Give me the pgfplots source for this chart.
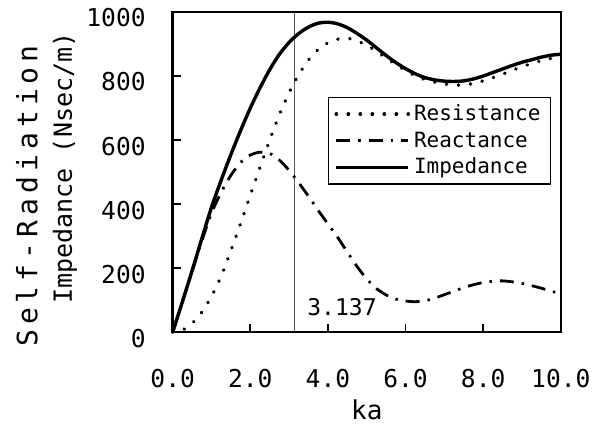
\documentclass[border=0pt]{standalone}
\usepackage{fontspec}
\setmainfont{DejaVu Sans Mono}
\newfontfamily\spacedmono[LetterSpace=18]{DejaVu Sans Mono}
\usepackage{pgfplots}
\usepackage{pgfplotstable}
\pgfplotsset{compat=1.18}

% ka, resistance, reactance, impedance
\pgfplotstableread{
ka   res  rea  imp
0.00 0    0    0
0.25 6    95   95
0.50 28   190  192
0.75 62   285  292
1.00 112  372  390
1.25 175  437  475
1.50 255  490  555
1.75 340  530  630
2.00 428  553  700
2.25 515  562  763
2.50 600  558  820
2.75 680  537  868
3.00 748  505  905
3.25 805  466  933
3.50 850  424  953
3.75 883  380  965
4.00 904  338  968
4.25 915  296  963
4.50 918  250  951
4.75 910  205  933
5.00 896  166  912
5.25 877  136  888
5.50 856  116  864
5.75 836  103  842
6.00 817  97   823
6.25 801  95   807
6.50 789  98   795
6.75 781  106  788
7.00 775  117  784
7.25 772  128  783
7.50 772  139  785
7.75 777  148  791
8.00 785  155  800
8.25 795  159  811
8.50 806  160  822
8.75 818  157  833
9.00 829  152  843
9.25 839  145  851
9.50 848  137  859
9.75 855  128  865
10.00 860 120  868
}\datatable

\begin{document}
\begin{tikzpicture}
\begin{axis}[
    scale only axis,
    width=194pt, height=160pt,
    xmin=0, xmax=10, ymin=0, ymax=1000,
    xtick={0,2,...,10}, ytick={0,200,...,1000},
    tick align=inside, xtick pos=bottom, ytick pos=left,
    major tick length=4pt,
    axis line style={line width=1.3pt},
    every tick/.style={black, line width=0.9pt},
    /pgf/number format/assume math mode=true,
    /pgf/number format/1000 sep={},
    tick label style={font=\fontsize{12.3}{14}\selectfont},
    xticklabel style={yshift=-15pt, /pgf/number format/.cd, fixed, fixed zerofill, precision=1},
    yticklabel style={xshift=-10pt, yshift=-3pt},
    xlabel={ka},
    xlabel style={at={(rel axis cs:0.5,-0.244)}, anchor=center, font=\fontsize{13}{15}\selectfont},
    ylabel={Impedance (Nsec/m)},
    ylabel style={at={(rel axis cs:-0.2776,0.5125)}, anchor=center, font=\fontsize{12.5}{15}\selectfont},
    legend style={at={(rel axis cs:0.975,0.734)}, anchor=north east, draw=black, line width=0.6pt,
        fill=white, font=\fontsize{10.5}{12}\selectfont, inner xsep=3pt, inner ysep=1.5pt,
        row sep=0pt, cells={anchor=west}},
    legend image code/.code={\draw[#1] (0pt,0pt) -- (36pt,0pt);},
    clip=false,
]
\addplot[gray!70!black, line width=0.5pt, forget plot] coordinates {(3.137,0) (3.137,1000)};
\addplot[black, line width=1.8pt, line cap=round, dash pattern=on 0.1pt off 5.9pt, smooth]
    table[x=ka, y=res] {\datatable};
\addlegendentry{Resistance}
\addplot[black, line width=1.4pt, dash pattern=on 7pt off 4pt on 1.2pt off 4pt, smooth]
    table[x=ka, y=rea] {\datatable};
\addlegendentry{Reactance}
\addplot[black, line width=1.7pt, smooth]
    table[x=ka, y=imp] {\datatable};
\addlegendentry{Impedance}
\node[anchor=west, inner sep=0pt, font=\fontsize{11.5}{13}\selectfont] at (axis cs:3.46,78) {3.137};
\node[rotate=90, anchor=center, font=\fontsize{14}{16}\spacedmono] at (rel axis cs:-0.3755,0.425) {Self-Radiation};
\coordinate (bbA) at (rel axis cs:-0.445,-0.322);
\coordinate (bbB) at (rel axis cs:1.119,1.0375);
\end{axis}
\path (bbA) rectangle (bbB);
\end{tikzpicture}
\end{document}
